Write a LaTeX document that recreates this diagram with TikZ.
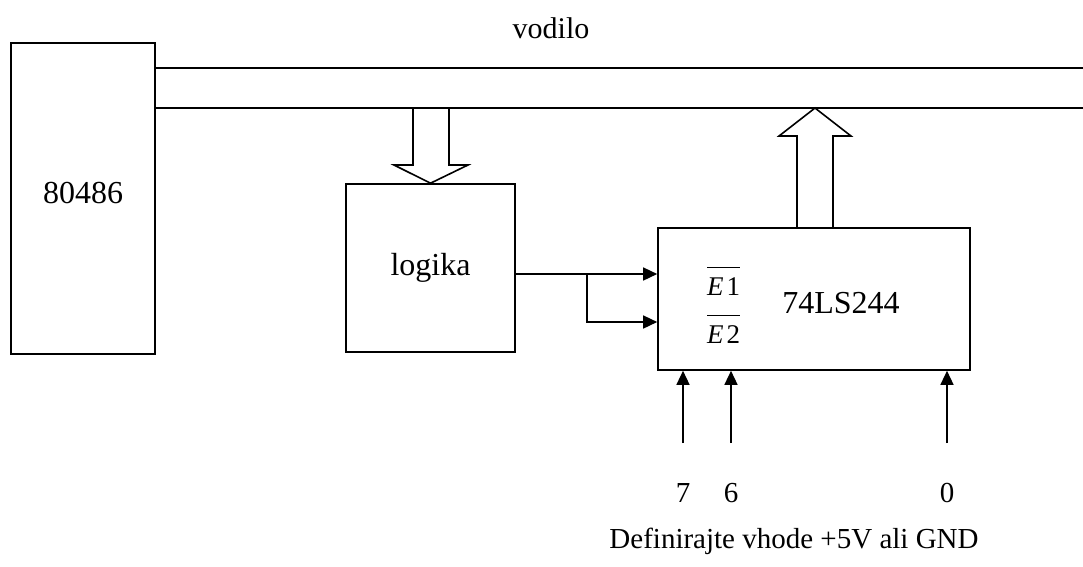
\documentclass[tikz,border=0pt]{standalone}
\usepackage{fontspec}
\setmainfont{Liberation Serif}
\usepackage{tikz}
\usetikzlibrary{arrows.meta,positioning,calc,backgrounds}
\tikzset{
  % block with a frame
  blk/.style={rectangle, draw, line width=1.6pt, minimum width=#1, inner sep=0pt},
  blk/.default={100pt},
  % text inside the blocks
  txt/.style={font=\fontsize{32}{38}\selectfont, inner sep=0pt},
  % text under the pins
  ptxt/.style={font=\fontsize{29}{34}\selectfont, inner sep=0pt},
  % label for enable inputs
  etxt/.style={font=\fontsize{27}{32}\selectfont, inner sep=0pt, anchor=base west},
  % signal line with filled head
  sig/.style={-{Triangle[length=14pt,width=13pt]}, line width=1.4pt},
  % bus line
  busline/.style={line width=1.6pt},
  % wide bus arrow
  fatarrow/.style={line width=1.6pt, fill=white, line join=miter},
}
% negated enable input name
\newcommand{\enbar}[1]{\setbox0=\hbox{\itshape E\kern3pt\upshape#1}\vbox{\hrule width\wd0 height 1.3pt\kern 9pt\box0}}
\begin{document}
\begin{tikzpicture}[x=1pt,y=-1pt]
  \useasboundingbox (0,0) rectangle (1083,566);
  % blocks
  \node[blk=144pt, minimum height=311pt] (cpu) at (83,198.5) {};
  \node[txt] (cpuname) at (83,193) {80486};
  \node[blk=169pt, minimum height=168pt, txt] (logic) at (430.5,268) {logika};
  \node[blk=312pt, minimum height=142pt] (buf) at (814,299) {};
  \node[txt] (bufname) at (841,303) {74LS244};
  \node[etxt] (en1) at (707,295) {\enbar{1}};
  \node[etxt] (en2) at (707,343) {\enbar{2}};
  % bus
  \node[ptxt,font=\fontsize{30}{36}\selectfont] (busname) at (551,28) {vodilo};
  \coordinate (bustop) at (1083,68);
  \coordinate (busbot) at (1083,108);
  \draw[busline] (cpu.east |- bustop) -- (bustop);
  \draw[busline] (cpu.east |- busbot) -- (busbot);
  \begin{scope}[on background layer]
    % bus to logika
    \draw[fatarrow] (413,108) -- (413,165) -- (394,165) -- (logic.north) -- (468,165) -- (449,165) -- (449,108);
    % 74LS244 to bus
    \draw[fatarrow] (797,228) -- (797,136) -- (779,136) -- (815,108) -- (851,136) -- (833,136) -- (833,228);
  \end{scope}
  % enable inputs
  \coordinate (in1) at (buf.west |- 0,274);
  \coordinate (in2) at (buf.west |- 0,322);
  \coordinate (fork) at (587,274);
  \draw[sig] (logic.east |- in1) -- (in1);
  \draw[sig] (fork) -- (fork |- in2) -- (in2);
  % data inputs
  \node[ptxt] (d7) at (683,493) {7};
  \node[ptxt] (d6) at (731,493) {6};
  \node[ptxt] (d0) at (947,493) {0};
  \coordinate (p7) at (683,443);
  \coordinate (p6) at (731,443);
  \coordinate (p0) at (947,443);
  \foreach \p in {p7,p6,p0}
    \draw[sig] (\p) -- (\p |- buf.south);
  \node[ptxt] (note) at (794,541) {Definirajte vhode +5V ali GND};
\end{tikzpicture}
\end{document}
